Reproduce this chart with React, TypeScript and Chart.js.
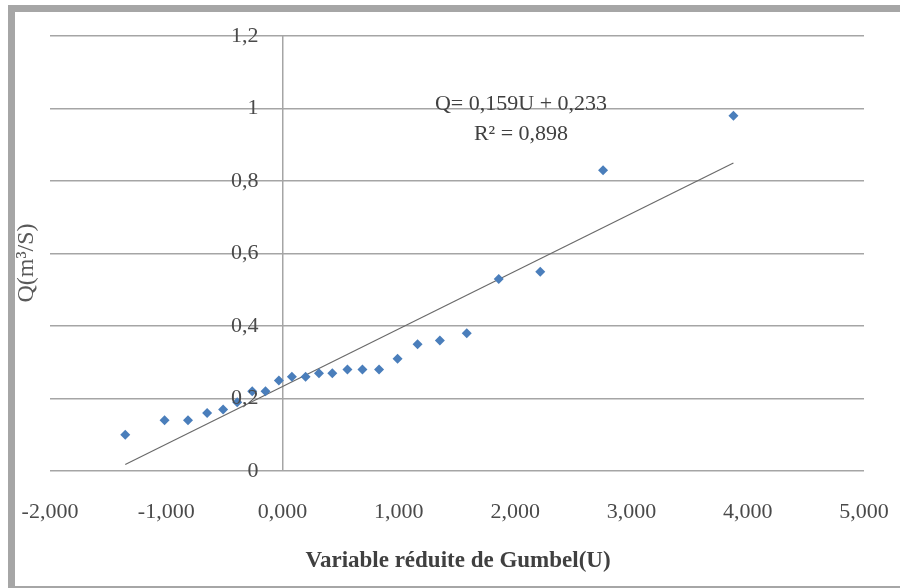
import React, { useEffect, useRef } from 'react';
import { Chart, registerables } from 'chart.js';

Chart.register(...registerables);

// Gumbel reduced variable U (x) and discharge Q (y)
const uValues = [
  -1.353, -1.015, -0.813, -0.649, -0.511, -0.39, -0.261, -0.147, -0.032, 0.08, 0.198, 0.313,
  0.428, 0.558, 0.687, 0.83, 0.989, 1.161, 1.353, 1.584, 1.859, 2.216, 2.756, 3.877,
];
const qValues = [
  0.1, 0.14, 0.14, 0.16, 0.17, 0.19, 0.22, 0.22, 0.25, 0.26, 0.26, 0.27,
  0.27, 0.28, 0.28, 0.28, 0.31, 0.35, 0.36, 0.38, 0.53, 0.55, 0.83, 0.98,
];

// Linear trend shown on the chart
const trendSlope = 0.159;
const trendIntercept = 0.233;
const trendLabel = 'Q= 0,159U + 0,233';
const r2Label = 'R² = 0,898';

const xTickValues = [-2, -1, 0, 1, 2, 3, 4, 5];
const xTickLabels = ['-2,000', '-1,000', '0,000', '1,000', '2,000', '3,000', '4,000', '5,000'];
const yTickValues = [0, 0.2, 0.4, 0.6, 0.8, 1, 1.2];
const yTickLabels = ['0', '0,2', '0,4', '0,6', '0,8', '1', '1,2'];

const xTitle = 'Variable réduite de Gumbel(U)';
const yTitle = 'Q(m³/S)';

const SERIF = '"Liberation Serif", "Times New Roman", serif';
const TEXT = '#4a4a4a';
const GRID = '#a5a5a5';

const textPlugin = {
  id: 'customTexts',
  afterDraw(chart: any) {
    const ctx = chart.ctx as CanvasRenderingContext2D;
    const xs = chart.scales.x;
    const ys = chart.scales.y;
    ctx.save();
    // y tick labels next to the vertical axis (at U = 0)
    const x0 = xs.getPixelForValue(0);
    ctx.font = `22px ${SERIF}`;
    ctx.fillStyle = TEXT;
    ctx.textAlign = 'right';
    ctx.textBaseline = 'middle';
    yTickValues.forEach((v, i) => {
      ctx.fillText(yTickLabels[i], x0 - 24, ys.getPixelForValue(v));
    });
    // trend equation
    ctx.textAlign = 'center';
    ctx.fillStyle = '#404040';
    ctx.fillText(trendLabel, 521, 104);
    ctx.fillText(r2Label, 521, 134);
    // x title
    ctx.font = `bold 23px ${SERIF}`;
    ctx.fillStyle = '#404040';
    ctx.fillText(xTitle, 458, 561);
    // y title
    ctx.translate(27, 263);
    ctx.rotate(-Math.PI / 2);
    ctx.font = `24px ${SERIF}`;
    ctx.fillStyle = '#595959';
    ctx.fillText(yTitle, 0, 0);
    ctx.restore();
  },
};

export default function App() {
  const canvasRef = useRef<HTMLCanvasElement | null>(null);

  useEffect(() => {
    if (!canvasRef.current) return;
    const uMin = Math.min(...uValues);
    const uMax = Math.max(...uValues);
    const trendPoints = [uMin, uMax].map((u) => ({ x: u, y: trendSlope * u + trendIntercept }));

    const chart = new Chart(canvasRef.current, {
      type: 'scatter',
      data: {
        datasets: [
          {
            label: 'Q',
            data: uValues.map((u, i) => ({ x: u, y: qValues[i] })),
            pointStyle: 'rectRot',
            pointRadius: 5,
            pointBackgroundColor: '#4a7ebb',
            pointBorderColor: '#4a7ebb',
            pointBorderWidth: 0,
            showLine: false,
            order: 1,
          },
          {
            label: 'Trend',
            data: trendPoints,
            showLine: true,
            borderColor: '#6a6a6a',
            borderWidth: 1.2,
            pointRadius: 0,
            fill: false,
            order: 2,
          },
        ],
      },
      options: {
        responsive: false,
        animation: false,
        layout: { padding: { left: 50, right: 36, top: 36, bottom: 0 } },
        plugins: {
          legend: { display: false },
          tooltip: { enabled: false },
        },
        scales: {
          x: {
            type: 'linear',
            position: 'bottom',
            min: -2,
            max: 5,
            afterBuildTicks: (scale: any) => {
              scale.ticks = xTickValues.map((v) => ({ value: v }));
            },
            afterFit: (scale: any) => {
              scale.height = 117;
              scale.paddingLeft = 0;
              scale.paddingRight = 0;
            },
            ticks: {
              autoSkip: false,
              maxRotation: 0,
              padding: 28,
              color: TEXT,
              font: { family: SERIF, size: 22 },
              callback: (_v: any, i: number) => xTickLabels[i],
            },
            grid: {
              drawTicks: false,
              lineWidth: 1.5,
              color: (c: any) => (c.tick && c.tick.value === 0 ? GRID : 'rgba(0,0,0,0)'),
            },
            border: { display: false },
          },
          y: {
            type: 'linear',
            position: 'left',
            min: 0,
            max: 1.2,
            afterBuildTicks: (scale: any) => {
              scale.ticks = yTickValues.map((v) => ({ value: v }));
            },
            afterFit: (scale: any) => {
              scale.width = 0;
              scale.paddingTop = 0;
              scale.paddingBottom = 0;
            },
            ticks: { display: false },
            grid: { drawTicks: false, color: GRID, lineWidth: 1.5 },
            border: { display: false },
          },
        },
      },
      plugins: [textPlugin],
    });
    return () => chart.destroy();
  }, []);

  return (
    <div
      style={{
        position: 'fixed',
        left: 0,
        top: 0,
        width: 900,
        height: 588,
        background: '#ffffff',
        overflow: 'hidden',
      }}
    >
      <canvas
        ref={canvasRef}
        width={900}
        height={588}
        style={{ position: 'absolute', left: 0, top: 0, width: 900, height: 588 }}
      />
      <div
        style={{
          position: 'absolute',
          left: 8,
          top: 5,
          width: 900,
          height: 588,
          boxSizing: 'border-box',
          border: '7px solid #a6a6a6',
          pointerEvents: 'none',
        }}
      />
    </div>
  );
}
